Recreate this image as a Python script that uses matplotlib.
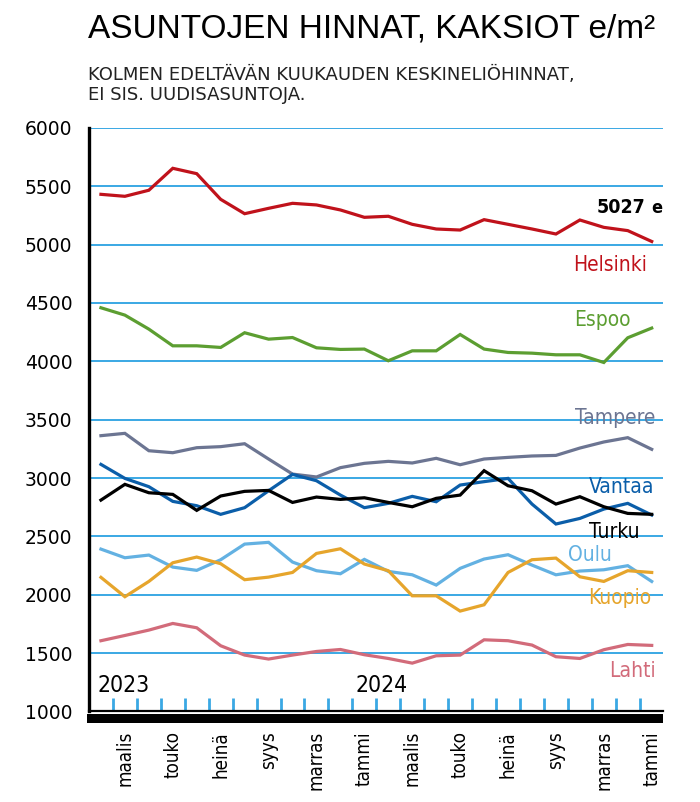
import matplotlib
matplotlib.use('Agg')
import matplotlib.pyplot as plt
from matplotlib.patches import Rectangle

# Kolmen kuukauden keskineliöhinnat, helmi 2023 - tammi 2025 (e/m2)
months = ['helmi', 'maalis', 'huhti', 'touko', 'kesä', 'heinä', 'elo', 'syys',
          'loka', 'marras', 'joulu', 'tammi', 'helmi', 'maalis', 'huhti', 'touko',
          'kesä', 'heinä', 'elo', 'syys', 'loka', 'marras', 'joulu', 'tammi']
years = ['2023', '2024']
year_start = [0, 11]  # indeksi, josta vuosi alkaa

helsinki = [5431, 5414, 5466, 5654, 5608, 5388, 5265, 5311, 5354, 5340, 5297, 5234,
            5243, 5174, 5134, 5125, 5214, 5174, 5134, 5091, 5211, 5148, 5120, 5027]
espoo = [4459, 4396, 4276, 4133, 4133, 4119, 4245, 4190, 4204, 4116, 4102, 4105,
         4005, 4090, 4090, 4230, 4105, 4076, 4070, 4056, 4056, 3990, 4202, 4285]
tampere = [3363, 3383, 3234, 3217, 3260, 3269, 3294, 3163, 3034, 3009, 3089, 3126,
           3143, 3129, 3169, 3114, 3163, 3177, 3189, 3194, 3257, 3309, 3346, 3246]
vantaa = [3117, 2997, 2926, 2800, 2763, 2689, 2746, 2891, 3031, 2977, 2854, 2746,
          2783, 2843, 2797, 2940, 2969, 2997, 2777, 2606, 2654, 2734, 2783, 2683]
turku = [2811, 2946, 2874, 2860, 2723, 2846, 2886, 2894, 2791, 2837, 2817, 2831,
         2791, 2754, 2826, 2854, 3063, 2934, 2891, 2777, 2840, 2754, 2697, 2689]
oulu = [2391, 2317, 2340, 2237, 2209, 2300, 2434, 2449, 2280, 2206, 2180, 2303,
        2200, 2171, 2083, 2226, 2306, 2343, 2254, 2171, 2203, 2214, 2249, 2114]
kuopio = [2149, 1983, 2114, 2274, 2323, 2266, 2129, 2151, 2191, 2354, 2394, 2263,
          2206, 1991, 1991, 1860, 1914, 2191, 2300, 2314, 2154, 2114, 2206, 2191]
lahti = [1606, 1651, 1697, 1754, 1717, 1563, 1483, 1449, 1483, 1514, 1531, 1486,
         1454, 1414, 1477, 1483, 1614, 1606, 1569, 1469, 1454, 1529, 1574, 1566]

yticks = [1000, 1500, 2000, 2500, 3000, 3500, 4000, 4500, 5000, 5500, 6000]

# nimi, data, väri, nimen paikka (x, y)
series = [
    ('Helsinki', helsinki, '#c0121b', 22.8, 4826),
    ('Espoo', espoo, '#5c9e31', 22.1, 4355),
    ('Tampere', tampere, '#6c7592', 23.15, 3515),
    ('Vantaa', vantaa, '#0b5ea9', 23.1, 2924),
    ('Turku', turku, '#000000', 22.5, 2538),
    ('Oulu', oulu, '#63b1e2', 21.35, 2341),
    ('Kuopio', kuopio, '#e6a52c', 23.0, 1973),
    ('Lahti', lahti, '#d26b7a', 23.15, 1347),
]

grid_col = '#3aa8e4'
cond = dict(family='DejaVu Sans', fontstretch='condensed')

fig = plt.figure(figsize=(7, 8.02), dpi=100)
ax = fig.add_axes([0.1271, 0.1129, 0.82, 0.7276])

x = list(range(len(months)))
for name, vals, col, lx, ly in series:
    ax.plot(x, vals, color=col, lw=2.3, solid_joinstyle='miter', zorder=3)
    ax.text(lx, ly, name, color=col, ha='right', va='center', fontsize=15, **cond)

# viimeinen Helsingin arvo
ax.annotate('e', xy=(23.43, 5314), ha='right', va='center', fontsize=13,
            fontweight='bold', **cond)
ax.annotate(str(helsinki[-1]), xy=(23.43, 5314), xytext=(-12, 0),
            textcoords='offset points', ha='right', va='center', fontsize=14,
            fontweight='bold', **cond)

ax.set_xlim(-0.5, 23.47)
ax.set_ylim(1000, 6000)

for v in yticks[1:]:
    ax.axhline(v, color=grid_col, lw=1.4, zorder=1)

ax.set_yticks(yticks)
ax.set_yticklabels([str(v) for v in yticks], fontsize=13.5)
ax.tick_params(axis='y', length=0, pad=12)

# kuukausinimet joka toiselle kuukaudelle
label_idx = [i for i in x if i % 2 == 1]
ax.set_xticks(label_idx)
ax.set_xticklabels([months[i] for i in label_idx], rotation=90, fontsize=13.5,
                   va='top', ha='center', **cond)
ax.tick_params(axis='x', which='major', length=0, pad=14)
ax.set_xticks([i + 0.5 for i in x[:-1]], minor=True)
ax.tick_params(axis='x', which='minor', direction='in', length=9.5, width=2,
               color=grid_col)

for yr, i in zip(years, year_start):
    ax.text(i - 0.15 if i == 0 else i - 0.35, 1167, yr, fontsize=16.5,
            ha='left', va='baseline', **cond)

for s in ['top', 'right']:
    ax.spines[s].set_visible(False)
ax.spines['left'].set_linewidth(2.4)
ax.spines['bottom'].set_linewidth(1.6)
ax.add_patch(Rectangle((-0.003, -0.0197), 1.003, 0.0154, transform=ax.transAxes,
                       clip_on=False, color='black', lw=0))

fig.text(0.1257, 1 - 38 / 802, 'ASUNTOJEN HINNAT, KAKSIOT e/m²', fontsize=24,
         family=['Liberation Sans', 'DejaVu Sans'], va='baseline')
fig.text(0.1257, 1 - 80 / 802, 'KOLMEN EDELTÄVÄN KUUKAUDEN KESKINELIÖHINNAT,',
         fontsize=13, va='baseline', color='#222222')
fig.text(0.1257, 1 - 100 / 802, 'EI SIS. UUDISASUNTOJA.', fontsize=13,
         va='baseline', color='#222222')

fig.savefig('out.png', dpi=100)
